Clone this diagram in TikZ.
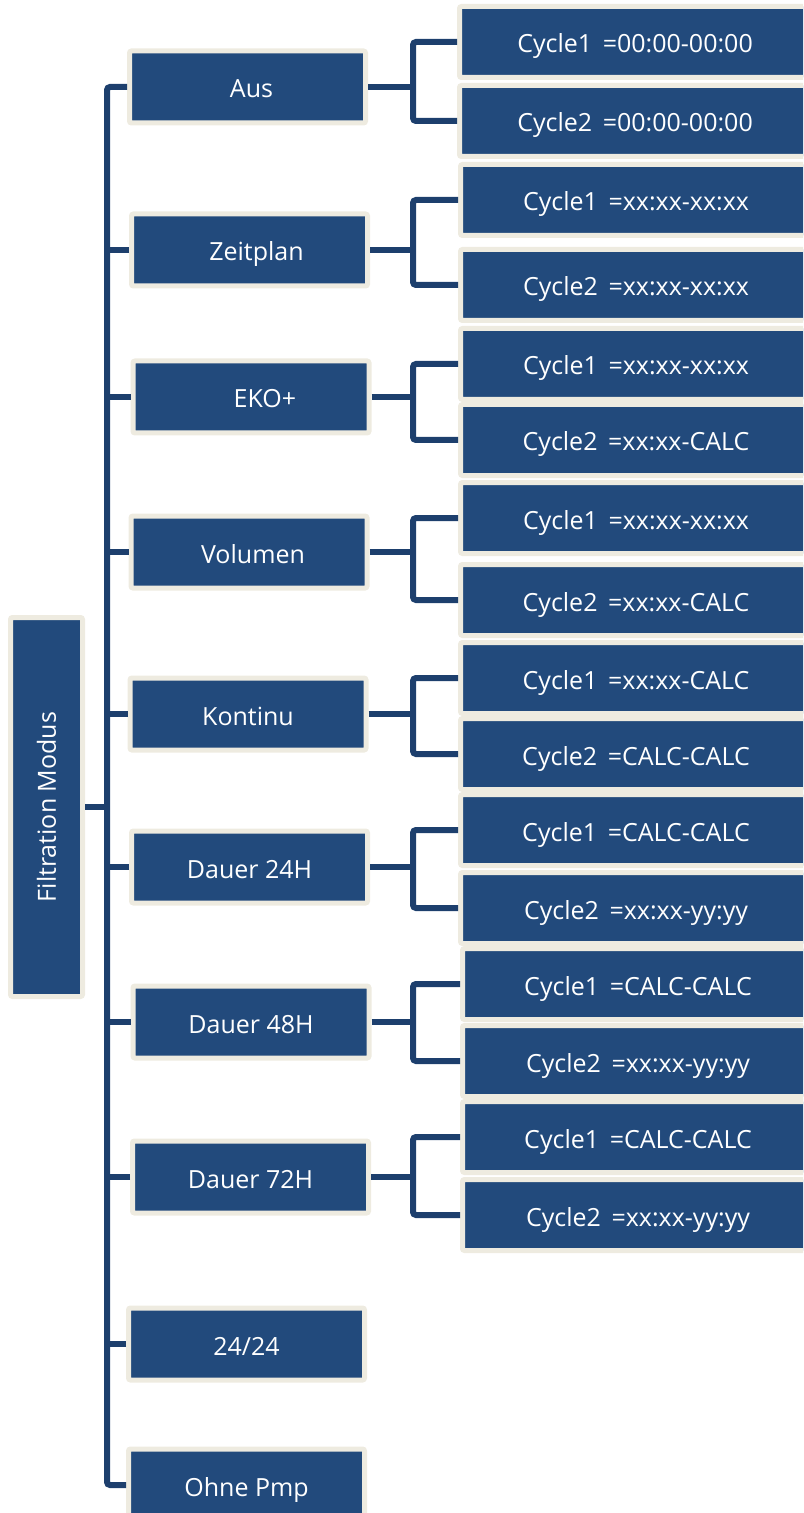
\documentclass[tikz,border=0pt]{standalone}
\usepackage{fontspec}
\setmainfont{Open Sans}
\definecolor{boxblue}{HTML}{224A7C}
\definecolor{linkblue}{HTML}{1D3F6D}
\definecolor{rim}{HTML}{EEEBE0}
\newcommand{\cy}[2]{Cycle#1\hspace{5.3pt}=#2}
\begin{document}
\begin{tikzpicture}[x=0.5pt,y=-0.5pt,
  box/.style={draw=rim, fill=boxblue, line width=2.5pt, rounded corners=1pt,
    text=white, font=\fontsize{12.5pt}{15pt}\selectfont, inner sep=0pt,
    text height=11pt, text depth=0pt},
  lvone/.style={box, minimum width=118pt, minimum height=36pt},
  lvtwo/.style={box, minimum width=175.5pt, minimum height=35.5pt},
  conn/.style={draw=linkblue, line width=3pt, rounded corners=1.5pt}]
\useasboundingbox (0,0) rectangle (803,1513);
\clip (0,0) rectangle (803,1513);
% root
\node[draw=rim, fill=boxblue, line width=2.5pt, rounded corners=1pt, inner sep=0pt,
  text=white, font=\fontsize{12.5pt}{15pt}\selectfont,
  minimum width=36pt, minimum height=189.5pt] (root) at (46.5,807)
  {\rotatebox{90}{Filtration Modus}};
% level one
\node[lvone] (aus)  at (247.5,87)   {\kern4pt Aus};
\node[lvone] (zeit) at (249.5,250)  {\kern7pt Zeitplan};
\node[lvone] (eko)  at (251,397)    {\kern14pt EKO+};
\node[lvone] (vol)  at (249,552)    {\kern4pt Volumen};
\node[lvone] (kont) at (248,714)    {Kontinu};
\node[lvone] (dvi)  at (249.5,867)  {Dauer 24H};
\node[lvone] (dach) at (251,1022)   {Dauer 48H};
\node[lvone] (dsie) at (250.5,1177) {Dauer 72H};
\node[lvone] (full) at (246.5,1344) {24/24};
\node[lvone] (ohne) at (246.5,1485) {Ohne Pmp};
% level two
\node[lvtwo] (aus1)  at (635,42)   {\cy{1}{00:00-00:00}};
\node[lvtwo] (aus2)  at (635,121)  {\cy{2}{00:00-00:00}};
\node[lvtwo] (zeit1) at (636,200)  {\cy{1}{xx:xx-xx:xx}};
\node[lvtwo] (zeit2) at (636,285)  {\cy{2}{xx:xx-xx:xx}};
\node[lvtwo] (eko1)  at (636,364)  {\cy{1}{xx:xx-xx:xx}};
\node[lvtwo] (eko2)  at (636,440)  {\cy{2}{xx:xx-CALC}};
\node[lvtwo] (vol1)  at (636,518)  {\cy{1}{xx:xx-xx:xx}};
\node[lvtwo] (vol2)  at (636,600)  {\cy{2}{xx:xx-CALC}};
\node[lvtwo] (kont1) at (636,678)  {\cy{1}{xx:xx-CALC}};
\node[lvtwo] (kont2) at (636,754)  {\cy{2}{CALC-CALC}};
\node[lvtwo] (dvi1)  at (636,830)  {\cy{1}{CALC-CALC}};
\node[lvtwo] (dvi2)  at (636,908)  {\cy{2}{xx:xx-yy:yy}};
\node[lvtwo] (dach1) at (638,984)  {\cy{1}{CALC-CALC}};
\node[lvtwo] (dach2) at (638,1061) {\cy{2}{xx:xx-yy:yy}};
\node[lvtwo] (dsie1) at (638,1137) {\cy{1}{CALC-CALC}};
\node[lvtwo] (dsie2) at (638,1215) {\cy{2}{xx:xx-yy:yy}};
% trunk
\coordinate (tk) at (107,0);
\draw[conn] (aus.west) -- (aus.west -| tk) -- (ohne.west -| tk) -- (ohne.west);
\draw[conn] (root.east) -- (root.east -| tk);
\foreach \n in {zeit,eko,vol,kont,dvi,dach,dsie,full}
  \draw[conn] (\n.west) -- (\n.west -| tk);
% brackets
\coordinate (bk) at (413,0);
\foreach \n in {aus,zeit,eko,vol,kont,dvi,dach,dsie}{
  \draw[conn] (\n.east) -- (\n.east -| bk);
  \draw[conn] (\n1.west) -- (\n1.west -| bk) -- (\n2.west -| bk) -- (\n2.west);
}
\end{tikzpicture}
\end{document}
